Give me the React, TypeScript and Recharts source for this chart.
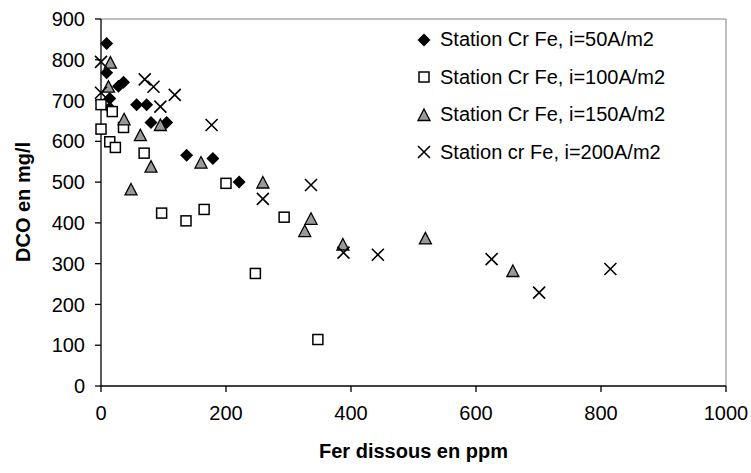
import {
  ScatterChart, Scatter, XAxis, YAxis, Legend, ReferenceLine, Label,
} from 'recharts'

// Fer dissous (ppm) / DCO (mg/l) par densité de courant
const fe50 = [9, 9, 36, 28, 14, 14, 57, 73, 80, 105, 137, 179, 221]
const dco50 = [840, 768, 745, 735, 705, 682, 690, 690, 646, 646, 566, 558, 500]

const fe100 = [0, 18, 36, 0, 14, 23, 69, 97, 136, 165, 200, 293, 247, 347]
const dco100 = [690, 673, 634, 630, 599, 585, 571, 424, 405, 433, 497, 414, 276, 114]

const fe150 = [15, 12, 37, 63, 95, 80, 48, 160, 259, 336, 326, 387, 519, 659]
const dco150 = [793, 734, 654, 615, 640, 538, 482, 548, 499, 410, 380, 347, 362, 282]

const fe200 = [0, 0, 70, 84, 118, 95, 177, 259, 336, 388, 443, 625, 701, 815]
const dco200 = [795, 719, 752, 734, 714, 685, 640, 459, 493, 327, 322, 311, 229, 287]

const xTicks = [0, 200, 400, 600, 800, 1000]
const yTicks = [0, 100, 200, 300, 400, 500, 600, 700, 800, 900]

const toPts = (xs: number[], ys: number[]) => xs.map((x, i) => ({ x, y: ys[i] }))

const FONT = '"Liberation Sans", Arial, sans-serif'

const Diamond = ({ cx, cy }: any) => (
  <polygon points={`${cx},${cy - 6.5} ${cx + 6.5},${cy} ${cx},${cy + 6.5} ${cx - 6.5},${cy}`} fill="#000" />
)
const Square = ({ cx, cy }: any) => (
  <rect x={cx - 5} y={cy - 5} width={10} height={10} fill="#fff" stroke="#000" strokeWidth={1.5} />
)
const Triangle = ({ cx, cy }: any) => (
  <polygon points={`${cx},${cy - 6} ${cx + 6},${cy + 5.5} ${cx - 6},${cy + 5.5}`} fill="#999" stroke="#000" strokeWidth={1.3} />
)
const Cross = ({ cx, cy }: any) => (
  <path d={`M${cx - 6},${cy - 6}L${cx + 6},${cy + 6}M${cx - 6},${cy + 6}L${cx + 6},${cy - 6}`} stroke="#000" strokeWidth={1.6} fill="none" />
)

const SERIES = [
  { name: 'Station Cr Fe, i=50A/m2', data: toPts(fe50, dco50), Shape: Diamond },
  { name: 'Station Cr Fe, i=100A/m2', data: toPts(fe100, dco100), Shape: Square },
  { name: 'Station Cr Fe, i=150A/m2', data: toPts(fe150, dco150), Shape: Triangle },
  { name: 'Station cr Fe, i=200A/m2', data: toPts(fe200, dco200), Shape: Cross },
]

const renderLegend = () => (
  <div style={{ fontFamily: FONT, fontSize: 20, color: '#000' }}>
    {SERIES.map(({ name, Shape }) => (
      <div key={name} style={{ display: 'flex', alignItems: 'center', height: 37.5, whiteSpace: 'nowrap' }}>
        <svg width={20} height={20} style={{ marginRight: 6 }}>
          <Shape cx={10} cy={10} />
        </svg>
        <span>{name}</span>
      </div>
    ))}
  </div>
)

const tickStyle = { fontSize: 20, fill: '#000', fontFamily: FONT }

export default function App() {
  return (
    <div style={{ position: 'absolute', left: 0, top: 0, background: '#fff' }}>
      <ScatterChart width={751} height={473} margin={{ top: 19, right: 25, left: 0, bottom: 0 }}>
        <XAxis
          type="number" dataKey="x" domain={[0, 1000]} ticks={xTicks}
          height={87} tick={tickStyle} tickSize={6} tickMargin={14}
          stroke="#000" strokeWidth={1.3} interval={0}
        >
          <Label content={() => (
            <text x={413.5} y={458} textAnchor="middle" fontFamily={FONT} fontSize={20} fontWeight="bold" fill="#000">
              Fer dissous en ppm
            </text>
          )} />
        </XAxis>
        <YAxis
          type="number" dataKey="y" domain={[0, 900]} ticks={yTicks}
          width={101} tick={tickStyle} tickSize={6} tickMargin={10}
          stroke="#000" strokeWidth={1.3} interval={0}
        >
          <Label content={() => (
            <text x={30} y={202} transform="rotate(-90 30 202)" textAnchor="middle" fontFamily={FONT} fontSize={20} fontWeight="bold" fill="#000">
              DCO en mg/l
            </text>
          )} />
        </YAxis>
        <ReferenceLine y={900} stroke="#808080" strokeWidth={1} />
        <ReferenceLine x={1000} stroke="#808080" strokeWidth={1} />
        <Legend
          layout="vertical" align="center" verticalAlign="middle"
          wrapperStyle={{ top: 21, left: 414, width: 'auto' }}
          content={renderLegend}
        />
        {SERIES.map(({ name, data, Shape }) => (
          <Scatter key={name} name={name} data={data} shape={<Shape />} isAnimationActive={false} />
        ))}
      </ScatterChart>
    </div>
  )
}
